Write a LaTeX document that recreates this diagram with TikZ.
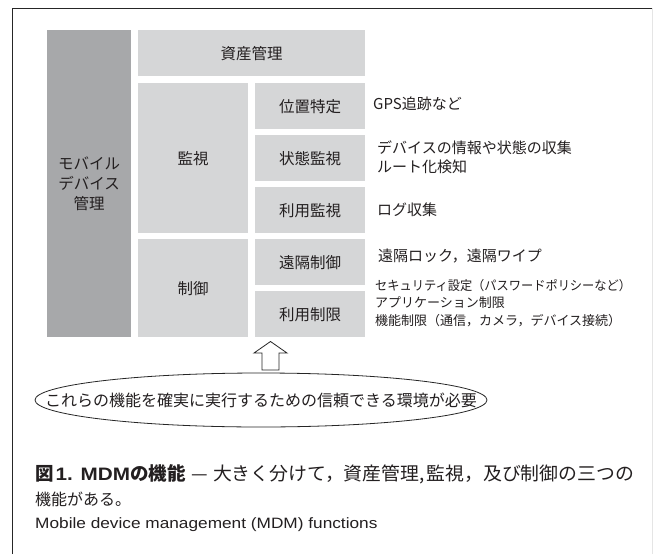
\documentclass[tikz,border=0pt]{standalone}
\usepackage{fontspec}
\setmainfont{Noto Sans CJK JP}
\newfontfamily\latinsans[FakeStretch=1.15]{Liberation Sans}
\usetikzlibrary{shapes.geometric}
\definecolor{darkbox}{HTML}{A7A8AA}
\definecolor{lightbox}{HTML}{D5D6D7}
\definecolor{txt}{HTML}{231F20}
\begin{document}
\begin{tikzpicture}[x=1pt,y=-1pt,
  dbox/.style={fill=darkbox, inner sep=0, anchor=north west, align=center, text=txt,
    font=\fontsize{15.5}{20}\selectfont},
  lbox/.style={fill=lightbox, inner sep=0, anchor=north west, align=center, text=txt,
    font=\fontsize{15.5}{20}\selectfont},
  desc/.style={inner sep=0, anchor=west, align=left, text=txt,
    font=\fontsize{15}{19}\selectfont},
  descs/.style={inner sep=0, anchor=west, align=left, text=txt,
    font=\fontsize{13}{17.5}\selectfont},
  captext/.style={inner sep=0, anchor=west, text=txt}]
\useasboundingbox (0,0) rectangle (653,554);
\fill[white] (0,0) rectangle (653,554);
\draw[line width=1pt, black!85] (12,554) -- (12,8) -- (653,8);
\draw[line width=0.6pt, black!10] (652,8) -- (652,554);
% boxes
\node[dbox, minimum width=84, minimum height=307] (mdm) at (47,30) {モバイル\\デバイス\\管理};
\node[lbox, minimum width=227, minimum height=46] (asset) at (138,30) {資産管理};
\node[lbox, minimum width=110, minimum height=150] (kanshi) at (138,83) {監視};
\node[lbox, minimum width=110, minimum height=46] (ichi) at (255,83) {位置特定};
\node[lbox, minimum width=110, minimum height=46] (jotai) at (255,135) {状態監視};
\node[lbox, minimum width=110, minimum height=46] (riyokan) at (255,187) {利用監視};
\node[lbox, minimum width=110, minimum height=98] (seigyo) at (138,239) {制御};
\node[lbox, minimum width=110, minimum height=46] (enkaku) at (255,239) {遠隔制御};
\node[lbox, minimum width=110, minimum height=46] (seigen) at (255,291) {利用制限};
% descriptions
\node[desc] (d1) at (373,104) {GPS追跡など};
\node[desc] (d2) at (377,157.5) {デバイスの情報や状態の収集\\ルート化検知};
\node[desc] (d3) at (377,210) {ログ収集};
\node[desc] (d4) at (378,256) {遠隔ロック，遠隔ワイプ};
\node[descs] (d5) at (375,303) {\scalebox{0.94}[1]{セキュリティ設定（パスワードポリシーなど）}\\アプリケーション制限\\機能制限（通信，カメラ，デバイス接続）};
% arrow
\draw[line width=0.8pt, black!85, fill=white]
  (262,370) -- (262,353) -- (254,353) -- (270.5,341.5) -- (287,353) -- (279,353) -- (279,370) -- cycle;
% ellipse
\node[draw, line width=0.8pt, black!85, ellipse, inner sep=0, minimum width=452, minimum height=54] (env) at (261,400) {};
\node[inner sep=0, text=txt, font=\fontsize{16}{20}\selectfont] (envtxt) at (env.center) {これらの機能を確実に実行するための信頼できる環境が必要};
% caption
\node[captext, font=\fontsize{18.5}{22}\selectfont] (cap1) at (35,474)
  {\textbf{図\hspace{2pt}{\latinsans\fontsize{18}{22}\selectfont 1. MDM}の機能}\hspace{6pt}—\hspace{5pt}\scalebox{1.02}[1]{大きく分けて，資産管理,\hspace{2pt}監視，及び制御の三つの}};
\node[captext, font=\fontsize{16}{20}\selectfont] (cap2) at (35,499) {機能がある。};
\node[captext, font=\fontsize{15}{18}\latinsans] (cap3) at (35,525) {Mobile device management (MDM) functions};
\end{tikzpicture}
\end{document}
